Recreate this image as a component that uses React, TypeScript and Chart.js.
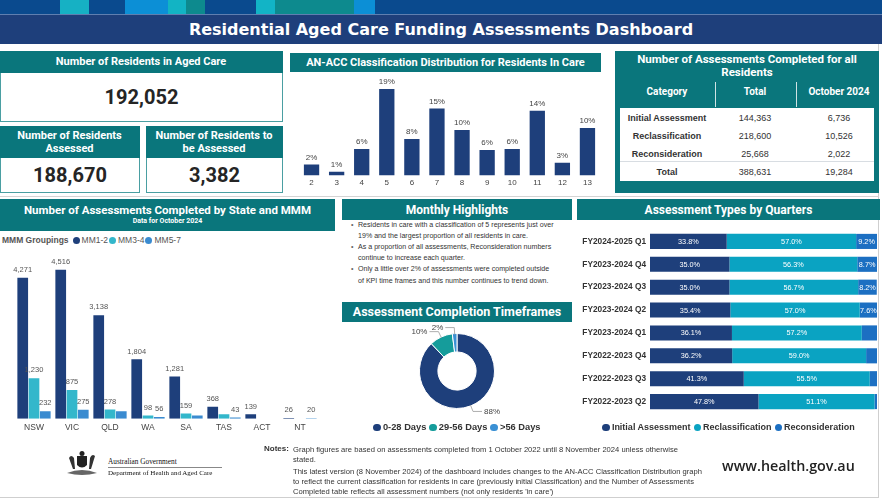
import React, { useEffect, useRef } from "react";
import { Chart, registerables } from "chart.js";

Chart.register(...registerables);

// ---------- colours & fonts ----------
const NAVY = "#1e3f7b";
const TEAL = "#0a767c";
const CYAN = "#33b7cb";
const MIDBLUE = "#3a8bd0";
const RECLASS = "#0aa3c2";
const RECON = "#1c6fc2";
const DONUT_TEAL = "#159c9b";
const DONUT_BLUE = "#3a90d4";
const ROBOTO = 'Roboto, "Liberation Sans", Arial, sans-serif';
const SANS = '"Liberation Sans", Arial, sans-serif';

// ---------- data ----------
const dashboardTitle = "Residential Aged Care Funding Assessments Dashboard";
const residentsInCare = 192052;
const residentsAssessed = 188670;
const residentsToAssess = 3382;

const anaccClasses = ["2", "3", "4", "5", "6", "7", "8", "9", "10", "11", "12", "13"];
const anaccShare = [2.4, 0.8, 5.8, 19.0, 8.0, 14.7, 10.0, 5.6, 5.8, 14.2, 2.8, 10.4];

const tableCategories = ["Initial Assessment", "Reclassification", "Reconsideration"];
const tableTotals = [144363, 218600, 25668];
const tableOctober = [6736, 10526, 2022];

const states = ["NSW", "VIC", "QLD", "WA", "SA", "TAS", "ACT", "NT"];
const mmGroups = ["MM1-2", "MM3-4", "MM5-7"];
const mm12 = [4271, 4516, 3138, 1804, 1281, 368, 139, 26];
const mm34 = [1230, 875, 278, 98, 159, 134, null, null];
const mm57 = [232, 275, 230, 56, 100, 43, null, 20];

const highlights = [
  ["Residents in care with a classification of 5 represents just over", "19% and the largest proportion of all residents in care."],
  ["As a proportion of all assessments, Reconsideration numbers", "continue to increase each quarter."],
  ["Only a little over 2% of assessments were completed outside", "of KPI time frames and this number continues to trend down."],
];

const timeframeLabels = ["0-28 Days", "29-56 Days", ">56 Days"];
const timeframeShare = [88, 10, 2];

const quarters = [
  "FY2024-2025 Q1",
  "FY2023-2024 Q4",
  "FY2023-2024 Q3",
  "FY2023-2024 Q2",
  "FY2023-2024 Q1",
  "FY2022-2023 Q4",
  "FY2022-2023 Q3",
  "FY2022-2023 Q2",
];
const assessmentTypes = ["Initial Assessment", "Reclassification", "Reconsideration"];
const initialPct = [33.8, 35.0, 35.0, 35.4, 36.1, 36.2, 41.3, 47.8];
const reclassPct = [57.0, 56.3, 56.7, 57.0, 57.2, 59.0, 55.5, 51.1];
const reconPct = [9.2, 8.7, 8.2, 7.6, 6.7, 4.8, 3.2, 1.1];

const notes1 = [
  "Graph figures are based on assessments completed from 1 October 2022 until 8 November 2024 unless otherwise",
  "stated.",
];
const notes2 = [
  "This latest version (8 November 2024) of the dashboard includes changes to the AN-ACC Classification Distribution graph",
  "to reflect the current classification for residents in care (previously initial Classification) and the Number of Assessments",
  "Completed table reflects all assessment numbers (not only residents 'in care')",
];

const fmt = (v: number) => v.toLocaleString("en-US");

Chart.defaults.font.family = SANS;

// ---------- plugins ----------
const barTopLabels = {
  id: "barTopLabels",
  afterDatasetsDraw(chart: any, _a: any, opts: any) {
    const ctx = chart.ctx;
    ctx.save();
    ctx.font = opts.font;
    ctx.fillStyle = opts.color;
    ctx.textAlign = "center";
    ctx.textBaseline = "bottom";
    const drawn: any[] = [];
    chart.data.datasets.forEach((ds: any, di: number) => {
      const meta = chart.getDatasetMeta(di);
      meta.data.forEach((el: any, i: number) => {
        const v = ds.data[i];
        if (v == null) return;
        const text = opts.format(v);
        const w = ctx.measureText(text).width;
        const x = el.x;
        const y = el.y - opts.offset;
        const box = { l: x - w / 2, r: x + w / 2, t: y - opts.h, b: y };
        if (
          opts.avoid &&
          drawn.some((d) => box.l < d.r - 0.2 && box.r > d.l + 0.2 && box.t < d.b && box.b > d.t)
        )
          return;
        drawn.push(box);
        ctx.fillText(text, x, y);
      });
    });
    ctx.restore();
  },
};

const stackInsideLabels = {
  id: "stackInsideLabels",
  afterDatasetsDraw(chart: any, _a: any, opts: any) {
    const ctx = chart.ctx;
    ctx.save();
    ctx.font = opts.font;
    ctx.fillStyle = "#ffffff";
    ctx.textAlign = "center";
    ctx.textBaseline = "middle";
    chart.data.datasets.forEach((ds: any, di: number) => {
      const meta = chart.getDatasetMeta(di);
      meta.data.forEach((el: any, i: number) => {
        const v = ds.data[i];
        if (v == null || v < opts.min) return;
        ctx.fillText(v.toFixed(1) + "%", (el.x + el.base) / 2, el.y + 0.5);
      });
    });
    ctx.restore();
  },
};

const donutOutLabels = {
  id: "donutOutLabels",
  afterDatasetsDraw(chart: any, _a: any, opts: any) {
    const ctx = chart.ctx;
    const meta = chart.getDatasetMeta(0);
    ctx.save();
    ctx.font = opts.font;
    ctx.fillStyle = opts.color;
    ctx.strokeStyle = "#9a9a9a";
    ctx.lineWidth = 0.8;
    ctx.textBaseline = "middle";
    meta.data.forEach((arc: any, i: number) => {
      const v = chart.data.datasets[0].data[i];
      const a = (arc.startAngle + arc.endAngle) / 2;
      const r = arc.outerRadius;
      const cx = arc.x;
      const cy = arc.y;
      const x0 = cx + Math.cos(a) * (r - 1);
      const y0 = cy + Math.sin(a) * (r - 1);
      const x1 = cx + Math.cos(a) * (r + opts.elbow);
      const y1 = cy + Math.sin(a) * (r + opts.elbow);
      const right = Math.cos(a) >= 0;
      const x2 = x1 + (right ? opts.arm : -opts.arm);
      ctx.beginPath();
      ctx.moveTo(x0, y0);
      ctx.lineTo(x1, y1);
      ctx.lineTo(x2, y1);
      ctx.stroke();
      ctx.textAlign = right ? "left" : "right";
      ctx.fillText(v + "%", x2 + (right ? 2 : -2), y1);
    });
    ctx.restore();
  },
};

// ---------- chart configs ----------
const anaccConfig = () => ({
  type: "bar",
  data: {
    labels: anaccClasses,
    datasets: [
      {
        data: anaccShare,
        backgroundColor: NAVY,
        categoryPercentage: 1,
        barPercentage: 0.61,
      },
    ],
  },
  options: {
    animation: false,
    responsive: true,
    maintainAspectRatio: false,
    layout: { padding: { left: 9, right: 6, top: 0, bottom: 0 } },
    plugins: {
      legend: { display: false },
      tooltip: { enabled: false },
      barTopLabels: {
        font: `8px ${SANS}`,
        color: "#444",
        offset: 3,
        h: 9,
        avoid: false,
        format: (v: number) => Math.round(v) + "%",
      },
    },
    scales: {
      x: {
        grid: { display: false, drawTicks: false },
        border: { display: false },
        ticks: { color: "#444", font: { size: 8 }, padding: 3 },
      },
      y: { display: false, min: 0, max: 22.3 },
    },
  },
  plugins: [barTopLabels],
});

const stateConfig = () => ({
  type: "bar",
  data: {
    labels: states,
    datasets: [
      { label: mmGroups[0], data: mm12, backgroundColor: NAVY },
      { label: mmGroups[1], data: mm34, backgroundColor: CYAN },
      { label: mmGroups[2], data: mm57, backgroundColor: MIDBLUE },
    ],
  },
  options: {
    animation: false,
    responsive: true,
    maintainAspectRatio: false,
    layout: { padding: { left: 15, right: 16, top: 0, bottom: 0 } },
    datasets: { bar: { categoryPercentage: 0.89, barPercentage: 0.95 } },
    plugins: {
      legend: { display: false },
      tooltip: { enabled: false },
      barTopLabels: {
        font: `7.5px ${SANS}`,
        color: "#555",
        offset: 4,
        h: 8,
        avoid: true,
        format: fmt,
      },
    },
    scales: {
      x: {
        grid: { display: false, drawTicks: false },
        border: { display: false },
        ticks: { color: "#444", font: { size: 8.5 }, padding: 4 },
      },
      y: { display: false, min: 0, max: 5050 },
    },
  },
  plugins: [barTopLabels],
});

const donutConfig = () => ({
  type: "doughnut",
  data: {
    labels: timeframeLabels,
    datasets: [
      {
        data: timeframeShare,
        backgroundColor: [NAVY, DONUT_TEAL, DONUT_BLUE],
        borderColor: "#ffffff",
        borderWidth: 1,
      },
    ],
  },
  options: {
    animation: false,
    responsive: true,
    maintainAspectRatio: false,
    cutout: "51%",
    layout: { padding: { top: 17, bottom: 17, left: 0, right: 0 } },
    plugins: {
      legend: { display: false },
      tooltip: { enabled: false },
      donutOutLabels: { font: `8px ${SANS}`, color: "#444", elbow: 6, arm: 9 },
    },
  },
  plugins: [donutOutLabels],
});

const quartersConfig = () => ({
  type: "bar",
  data: {
    labels: quarters,
    datasets: [
      { label: assessmentTypes[0], data: initialPct, backgroundColor: NAVY },
      { label: assessmentTypes[1], data: reclassPct, backgroundColor: RECLASS },
      { label: assessmentTypes[2], data: reconPct, backgroundColor: RECON },
    ],
  },
  options: {
    indexAxis: "y",
    animation: false,
    responsive: true,
    maintainAspectRatio: false,
    layout: { padding: { left: 0, right: 3, top: 0, bottom: 0 } },
    datasets: { bar: { categoryPercentage: 1, barPercentage: 0.66 } },
    plugins: {
      legend: { display: false },
      tooltip: { enabled: false },
      stackInsideLabels: { font: `7.3px ${SANS}`, min: 7 },
    },
    scales: {
      x: { display: false, stacked: true, min: 0, max: 100 },
      y: {
        stacked: true,
        grid: { display: false, drawTicks: false },
        border: { display: false },
        ticks: { color: "#333", font: { size: 8.3, weight: "bold" }, padding: 4 },
        afterFit: (s: any) => {
          s.width = 72;
        },
      },
    },
  },
  plugins: [stackInsideLabels],
});

// ---------- components ----------
function ChartBox({ make, style }: { make: () => any; style: React.CSSProperties }) {
  const ref = useRef<HTMLCanvasElement>(null);
  useEffect(() => {
    const c = new Chart(ref.current as HTMLCanvasElement, make());
    return () => c.destroy();
  }, []);
  return (
    <div style={{ position: "absolute", ...style }}>
      <canvas ref={ref} />
    </div>
  );
}

const abs = (x: number, y: number, w: number, h: number): React.CSSProperties => ({
  position: "absolute",
  left: x,
  top: y,
  width: w,
  height: h,
});

function Header({
  x,
  y,
  w,
  h,
  lines,
  size = 11.5,
  sub,
}: {
  x: number;
  y: number;
  w: number;
  h: number;
  lines: string[];
  size?: number;
  sub?: string;
}) {
  return (
    <div
      style={{
        ...abs(x, y, w, h),
        background: TEAL,
        color: "#fff",
        display: "flex",
        flexDirection: "column",
        justifyContent: "center",
        alignItems: "center",
        fontFamily: ROBOTO,
        fontWeight: 700,
        fontSize: size,
        lineHeight: `${size + 2}px`,
        textAlign: "center",
      }}
    >
      {lines.map((l) => (
        <div key={l}>{l}</div>
      ))}
      {sub ? <div style={{ fontSize: 7, lineHeight: "9px" }}>{sub}</div> : null}
    </div>
  );
}

function Kpi({ x, y, w, h, hh, lines, value }: { x: number; y: number; w: number; h: number; hh: number; lines: string[]; value: number }) {
  return (
    <div style={{ ...abs(x, y, w, h), boxSizing: "border-box", border: "1.5px solid #4a9fa2", background: "#fff" }}>
      <Header x={-1.5} y={-1.5} w={w} h={hh} lines={lines} size={11} />
      <div
        style={{
          position: "absolute",
          left: 0,
          right: 0,
          top: hh - 1.5,
          bottom: 0,
          display: "flex",
          alignItems: "center",
          justifyContent: "center",
          fontFamily: ROBOTO,
          fontWeight: 700,
          fontSize: 20,
          color: "#252525",
        }}
      >
        {fmt(value)}
      </div>
    </div>
  );
}

function Dot({ c, s = 8 }: { c: string; s?: number }) {
  return (
    <span
      style={{
        display: "inline-block",
        width: s,
        height: s,
        borderRadius: "50%",
        background: c,
        marginRight: 2,
        verticalAlign: "-1px",
      }}
    />
  );
}

const stripSegments: [number, string][] = [
  [60, "#0a4a8e"],
  [29, "#16b1c4"],
  [36, "#0a4a8e"],
  [43, "#0c8fd6"],
  [18, "#12b4c4"],
  [19, "#0d8a8e"],
  [51, "#0a4a8e"],
  [19, "#12b4c6"],
  [79, "#0d8a8e"],
  [21, "#0c8fd6"],
  [507, "#0a4a8e"],
];

export default function App() {
  const tableTotal = tableTotals.reduce((a, b) => a + b, 0);
  const octTotal = tableOctober.reduce((a, b) => a + b, 0);
  const colX = [667, 755, 839];
  return (
    <div style={{ position: "fixed", left: 0, top: 0, width: 882, height: 501, background: "#fff", overflow: "hidden" }}>
      {/* top strip */}
      <div style={{ ...abs(0, 0, 882, 14), display: "flex" }}>
        {stripSegments.map(([w, c], i) => (
          <div key={i} style={{ width: w, height: 14, background: c, flex: "none" }} />
        ))}
      </div>
      <div style={{ ...abs(0, 14, 882, 1), background: "#5f7fb0" }} />
      <div
        style={{
          ...abs(0, 15, 882, 29),
          background: NAVY,
          color: "#fff",
          fontFamily: '"DejaVu Sans", Verdana, sans-serif',
          fontWeight: 700,
          fontSize: 16,
          display: "flex",
          alignItems: "center",
          justifyContent: "center",
          paddingLeft: 0,
        }}
      >
        {dashboardTitle}
      </div>

      {/* outer frame */}
      <div style={{ ...abs(0, 44, 879, 454), boxSizing: "border-box", borderRight: "1px solid #cfcfcf", borderBottom: "1px solid #cfcfcf" }} />

      {/* KPIs */}
      <Kpi x={0} y={51} w={283} h={71} hh={22} lines={["Number of Residents in Aged Care"]} value={residentsInCare} />
      <Kpi x={0} y={126} w={140} h={67} hh={32} lines={["Number of Residents", "Assessed"]} value={residentsAssessed} />
      <Kpi x={146} y={126} w={137} h={67} hh={32} lines={["Number of Residents to", "be Assessed"]} value={residentsToAssess} />

      {/* AN-ACC */}
      <Header x={290} y={53} w={311} h={19} lines={["AN-ACC Classification Distribution for Residents In Care"]} size={11} />
      <ChartBox make={anaccConfig} style={{ left: 290, top: 74, width: 316, height: 117 }} />

      {/* table */}
      <div style={{ ...abs(615, 51, 264, 142), background: TEAL }}>
        <div
          style={{
            position: "absolute",
            left: 0,
            right: 0,
            top: 2,
            textAlign: "center",
            color: "#fff",
            fontFamily: ROBOTO,
            fontWeight: 700,
            fontSize: 11.5,
            lineHeight: "12.5px",
          }}
        >
          Number of Assessments Completed for all
          <br />
          Residents
        </div>
        <div style={{ ...abs(100, 31, 1, 25), background: "#cfe3e4" }} />
        <div style={{ ...abs(181, 31, 1, 25), background: "#cfe3e4" }} />
        {["Category", "Total", "October 2024"].map((t, i) => (
          <div
            key={t}
            style={{
              position: "absolute",
              left: colX[i] - 615 - 50,
              width: 100,
              top: 35,
              textAlign: "center",
              color: "#fff",
              fontFamily: ROBOTO,
              fontWeight: 700,
              fontSize: 10,
            }}
          >
            {t}
          </div>
        ))}
        <div style={{ ...abs(5, 57, 254, 73), background: "#fff" }}>
          <div style={{ ...abs(0, 53, 254, 1), background: "#d8dde2" }} />
          {[...tableCategories, "Total"].map((cat, r) => {
            const ty = r < 3 ? 5 + r * 18 : 59;
            const vals = r < 3 ? [tableTotals[r], tableOctober[r]] : [tableTotal, octTotal];
            return (
              <React.Fragment key={cat}>
                {[cat, fmt(vals[0]), fmt(vals[1])].map((t, c) => (
                  <div
                    key={c}
                    style={{
                      position: "absolute",
                      left: colX[c] - 620 - 50,
                      width: 100,
                      top: ty,
                      textAlign: "center",
                      fontFamily: SANS,
                      fontWeight: c === 0 ? 700 : 400,
                      fontSize: 9,
                      color: "#333",
                    }}
                  >
                    {t}
                  </div>
                ))}
              </React.Fragment>
            );
          })}
        </div>
      </div>

      {/* separator */}
      <div style={{ ...abs(0, 196, 879, 1), background: "#d4d4d4" }} />

      {/* State chart */}
      <Header x={0} y={199} w={335} h={32} lines={["Number of Assessments Completed by State and MMM"]} size={11.5} sub="Data for October 2024" />
      <div style={{ ...abs(2, 235, 300, 12), fontFamily: SANS, fontSize: 8.5, color: "#555", whiteSpace: "nowrap" }}>
        <b style={{ marginRight: 4 }}>MMM Groupings</b>
        {mmGroups.map((g, i) => (
          <span key={g} style={{ marginRight: 1 }}>
            <Dot c={[NAVY, CYAN, MIDBLUE][i]} s={7} />
            {g}
          </span>
        ))}
      </div>
      <ChartBox make={stateConfig} style={{ left: 0, top: 252, width: 335, height: 185 }} />

      {/* Monthly highlights */}
      <Header x={342} y={199} w={230} h={21} lines={["Monthly Highlights"]} size={12} />
      <div style={{ ...abs(351, 219.5, 222, 70), fontFamily: SANS, fontSize: 7.1, lineHeight: "11.2px", color: "#333", whiteSpace: "nowrap" }}>
        {highlights.map((b) => (
          <div key={b[0]} style={{ display: "flex" }}>
            <span style={{ width: 7, flex: "none", color: "#666" }}>•</span>
            <span>
              {b.map((l, i) => (
                <div key={i}>{l}</div>
              ))}
            </span>
          </div>
        ))}
      </div>

      {/* Completion timeframes */}
      <Header x={342} y={302} w={230} h={20} lines={["Assessment Completion Timeframes"]} size={12.5} />
      <ChartBox make={donutConfig} style={{ left: 380, top: 316, width: 154, height: 110 }} />
      <div
        style={{
          ...abs(342, 422, 230, 14),
          textAlign: "center",
          fontFamily: SANS,
          fontWeight: 700,
          fontSize: 9.3,
          color: "#333",
          whiteSpace: "nowrap",
        }}
      >
        {timeframeLabels.map((l, i) => (
          <span key={l} style={{ marginLeft: i ? 3 : 0 }}>
            <Dot c={[NAVY, DONUT_TEAL, DONUT_BLUE][i]} s={7.5} />
            {l}
          </span>
        ))}
      </div>

      {/* Quarters */}
      <Header x={577} y={199} w={303} h={21} lines={["Assessment Types by Quarters"]} size={12} />
      <ChartBox make={quartersConfig} style={{ left: 578, top: 221, width: 302, height: 201 }} />
      <div
        style={{
          ...abs(577, 422, 303, 14),
          textAlign: "center",
          fontFamily: SANS,
          fontWeight: 700,
          fontSize: 9,
          color: "#333",
          whiteSpace: "nowrap",
        }}
      >
        {assessmentTypes.map((l, i) => (
          <span key={l} style={{ marginLeft: i ? 3 : 0 }}>
            <Dot c={[NAVY, RECLASS, RECON][i]} s={7.5} />
            {l}
          </span>
        ))}
      </div>

      {/* footer */}
      <svg style={{ position: "absolute", left: 64, top: 450 }} width={36} height={28} viewBox="0 0 36 28">
        <path d="M13 6 h10 v9 q-5 5 -10 0 z" fill="#222" />
        <circle cx="18" cy="3.5" r="2.5" fill="#222" />
        <path d="M5 8 q2 -4 5 0 l1 11 -2 0 z" fill="#333" />
        <path d="M31 6 q-3 -3 -5 2 l-1 11 2 0 z" fill="#333" />
        <path d="M3 23 q15 -6 30 0 q-15 4 -30 0" fill="#666" />
      </svg>
      <div style={{ ...abs(108, 457, 125, 10), fontFamily: '"Liberation Serif", serif', fontSize: 7.3, color: "#111" }}>
        Australian Government
      </div>
      <div style={{ ...abs(108, 467, 114, 1), background: "#888" }} />
      <div style={{ ...abs(108, 469, 130, 10), fontFamily: '"Liberation Serif", serif', fontSize: 7, color: "#111", whiteSpace: "nowrap" }}>
        Department of Health and Aged Care
      </div>
      <div style={{ ...abs(264, 444, 30, 10), fontFamily: SANS, fontWeight: 700, fontSize: 8, color: "#333" }}>Notes:</div>
      <div style={{ ...abs(293, 445, 425, 52), fontFamily: SANS, fontSize: 7.6, lineHeight: "10px", color: "#333", whiteSpace: "nowrap" }}>
        {notes1.map((l) => (
          <div key={l}>{l}</div>
        ))}
        <div style={{ height: 2 }} />
        {notes2.map((l) => (
          <div key={l}>{l}</div>
        ))}
      </div>
      <div style={{ ...abs(722, 456, 150, 20), fontFamily: '"Open Sans", "Liberation Sans", sans-serif', fontSize: 14.3, fontWeight: 600, color: "#222" }}>
        www.health.gov.au
      </div>
    </div>
  );
}
